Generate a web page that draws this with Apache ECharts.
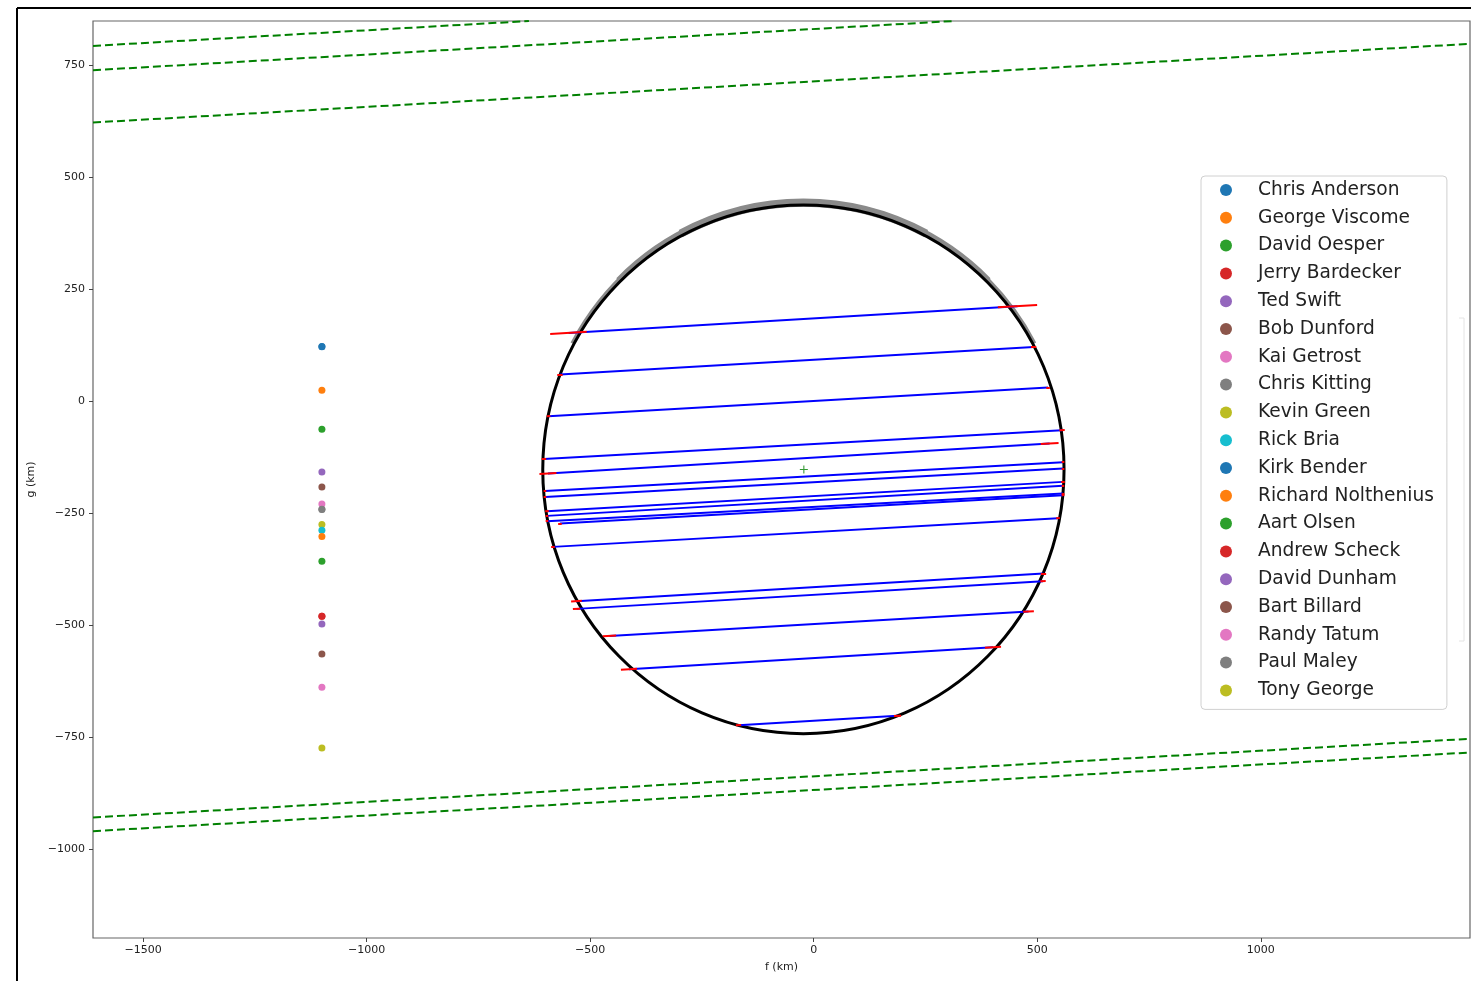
<!DOCTYPE html>
<html>
<head>
<meta charset="utf-8">
<title>Occultation chords</title>
<script src="https://cdn.jsdelivr.net/npm/echarts@6/dist/echarts.min.js"></script>
<style>
html,body{margin:0;padding:0;background:#fff;}
#main{width:1471px;height:981px;}
</style>
</head>
<body>
<div id="main"></div>
<script>
// observers (legend order) and their marker position at f = -1100
var observerNames = ['Chris Anderson', 'George Viscome', 'David Oesper', 'Jerry Bardecker', 'Ted Swift',
    'Bob Dunford', 'Kai Getrost', 'Chris Kitting', 'Kevin Green', 'Rick Bria', 'Kirk Bender',
    'Richard Nolthenius', 'Aart Olsen', 'Andrew Scheck', 'David Dunham', 'Bart Billard',
    'Randy Tatum', 'Paul Maley', 'Tony George'];
var observerColors = ['#1f77b4', '#ff7f0e', '#2ca02c', '#d62728', '#9467bd', '#8c564b', '#e377c2',
    '#7f7f7f', '#bcbd22', '#17becf', '#1f77b4', '#ff7f0e', '#2ca02c', '#d62728', '#9467bd',
    '#8c564b', '#e377c2', '#7f7f7f', '#bcbd22'];
var dotF = -1100;
var dotG = [121.4, 23.9, -63.2, -481, -159, -192, -230, -242.4, -276, -289, 121,
    -302.7, -357.8, -480.6, -497.8, -565, -639, -242, -774.6];

// positive chords (blue): start / end of each chord
var chordF1 = [-548.5, -567.6, -593.1, -603.4, -594.4, -601.1, -601.1, -596.6, -596.6, -596.6, -567.6, -583.2, -530.6, -530.6, -456.8, -413.2, -168.2];
var chordG1 = [151.8, 58.7, -34.2, -129.5, -162, -200.9, -214.3, -246.2, -256.7, -268.5, -273.7, -325.9, -447.1, -464.3, -524.6, -598.9, -723.9];
var chordF2 = [455.9, 491.9, 524.2, 555.5, 527.7, 557.7, 557.7, 557.7, 557.7, 557.7, 557.7, 546.5, 513.9, 513.0, 480.5, 401.1, 187.5];
var chordG2 = [211.4, 120.3, 29.9, -65.4, -95.1, -136.8, -150.9, -180.8, -189.7, -206.7, -210.5, -261.8, -385.3, -402.5, -470.1, -549.8, -703.1];
// timing uncertainty at each end (km), red bars
var errLeft = [41, 6, 4, 5, 19, 3, 3, 4, 3, 3, 4, 4, 12, 8, 15, 18, 6];
var errRight = [44, 6, 4, 6, 20, 3, 3, 4, 3, 3, 3, 4, 6, 6, 12, 18, 8];

// negative chords (green dashed)
var missF1 = [-1612, -1612, -1612, -1612, -1612];
var missG1 = [792.4, 738.2, 621.4, -929.9, -960.5];
var missF2 = [-637, 314, 1468, 1468, 1468];
var missG2 = [848, 848, 797, -754.3, -784.9];

// fitted limb
var limbCenter = [-23, -153];
var limbRadius = [583, 590];

var xTicks = [-1500, -1000, -500, 0, 500, 1000];
var yTicks = [-1000, -750, -500, -250, 0, 250, 500, 750];

var FONT = 'DejaVu Sans';
var myChart = echarts.init(document.getElementById('main'));

function minusFmt(v) {
    return String(v).replace('-', '\u2212');
}

var chordData = [];
var errData = [];
for (var i = 0; i < chordF1.length; i++) {
    chordData.push({coords: [[chordF1[i], chordG1[i]], [chordF2[i], chordG2[i]]]});
    var df = chordF2[i] - chordF1[i], dg = chordG2[i] - chordG1[i];
    var len = Math.sqrt(df * df + dg * dg);
    var uf = df / len, ug = dg / len;
    errData.push({coords: [[chordF1[i] - errLeft[i] * uf, chordG1[i] - errLeft[i] * ug],
        [chordF1[i] + errLeft[i] * uf, chordG1[i] + errLeft[i] * ug]]});
    errData.push({coords: [[chordF2[i] - errRight[i] * uf, chordG2[i] - errRight[i] * ug],
        [chordF2[i] + errRight[i] * uf, chordG2[i] + errRight[i] * ug]]});
}
var missData = [];
for (var j = 0; j < missF1.length; j++) {
    missData.push({coords: [[missF1[j], missG1[j]], [missF2[j], missG2[j]]]});
}

// gray uncertainty band on the upper limb: [start angle, end angle, width]
var bandArcs = [[-152, -28, 4], [-135, -45, 6], [-118, -62, 8]];

var series = [];
series.push({
    type: 'custom', name: 'band', z: 1, silent: true,
    encode: {x: 0, y: 1},
    data: [[limbCenter[0], limbCenter[1], limbRadius[0], limbRadius[1]]],
    renderItem: function (params, api) {
        var c = api.coord([api.value(0), api.value(1)]);
        var s = api.size([api.value(2), api.value(3)]);
        var kids = bandArcs.map(function (b) {
            return {
                type: 'arc',
                shape: {cx: 0, cy: -1.5, r: s[0] + 1, startAngle: b[0] * Math.PI / 180, endAngle: b[1] * Math.PI / 180, clockwise: true},
                style: {stroke: '#8a8a8a', lineWidth: b[2], fill: null}
            };
        });
        return {type: 'group', x: c[0], y: c[1], scaleY: s[1] / s[0], children: kids};
    }
});
series.push({
    type: 'custom', name: 'limb', z: 2, silent: true,
    encode: {x: 0, y: 1},
    data: [[limbCenter[0], limbCenter[1], limbRadius[0], limbRadius[1]]],
    renderItem: function (params, api) {
        var c = api.coord([api.value(0), api.value(1)]);
        var s = api.size([api.value(2), api.value(3)]);
        return {
            type: 'ellipse',
            shape: {cx: c[0], cy: c[1], rx: s[0], ry: s[1]},
            style: {stroke: '#000', lineWidth: 3, fill: null}
        };
    }
});
series.push({
    type: 'lines', name: 'chords', coordinateSystem: 'cartesian2d', z: 3, silent: true,
    data: chordData,
    lineStyle: {color: '#0000ff', width: 2, opacity: 1}
});
series.push({
    type: 'lines', name: 'errors', coordinateSystem: 'cartesian2d', z: 4, silent: true,
    data: errData,
    lineStyle: {color: '#ff0000', width: 2, opacity: 1}
});
series.push({
    type: 'lines', name: 'misses', coordinateSystem: 'cartesian2d', z: 3, silent: true,
    data: missData,
    lineStyle: {color: '#008000', width: 2, opacity: 1, type: [8, 4]}
});
series.push({
    type: 'scatter', name: 'center', z: 5, silent: true,
    data: [[limbCenter[0] + 1, limbCenter[1]]],
    symbol: 'path://M0,4h9v1.2h-9z M3.9,0h1.2v9h-1.2z',
    symbolSize: 8,
    itemStyle: {color: '#008000'}
});
for (var k = 0; k < observerNames.length; k++) {
    series.push({
        type: 'scatter', name: observerNames[k], z: 5,
        data: [[dotF, dotG[k]]],
        symbol: 'circle', symbolSize: 7,
        itemStyle: {color: observerColors[k], opacity: 1}
    });
}

var option = {
    animation: false,
    backgroundColor: '#fff',
    grid: {
        left: 93, top: 21, right: 1, bottom: 43,
        show: true, borderColor: '#666', borderWidth: 1.2,
        outerBoundsMode: 'none'
    },
    xAxis: {
        type: 'value', min: -1612, max: 1468,
        name: 'f (km)', nameLocation: 'middle', nameGap: 24,
        nameTextStyle: {fontFamily: FONT, fontSize: 11, color: '#222'},
        axisLine: {show: false, onZero: false},
        splitLine: {show: false},
        axisTick: {show: true, length: 4, lineStyle: {color: '#444'}, customValues: xTicks},
        axisLabel: {customValues: xTicks, margin: 7, fontFamily: FONT, fontSize: 11, color: '#222', formatter: minusFmt}
    },
    yAxis: {
        type: 'value', min: -1199, max: 848,
        name: 'g (km)', nameLocation: 'middle', nameGap: 50, nameRotate: 90,
        nameTextStyle: {fontFamily: FONT, fontSize: 11, color: '#222'},
        axisLine: {show: false, onZero: false},
        splitLine: {show: false},
        axisTick: {show: true, length: 4, lineStyle: {color: '#444'}, customValues: yTicks},
        axisLabel: {customValues: yTicks, margin: 8, fontFamily: FONT, fontSize: 11, color: '#222', formatter: minusFmt}
    },
    legend: {
        data: observerNames, orient: 'vertical', left: 1201, top: 176,
        icon: 'circle', itemWidth: 12, itemHeight: 12, itemGap: 7.8,
        padding: [4, 13, 9, 19],
        borderColor: '#d0d0d0', borderWidth: 1, borderRadius: 4,
        backgroundColor: 'rgba(255,255,255,0.85)',
        selectedMode: false,
        textStyle: {fontFamily: FONT, fontSize: 18.6, color: '#222', lineHeight: 20, padding: [0, 0, 0, 21]}
    },
    graphic: [
        {type: 'line', silent: true, shape: {x1: 17, y1: 8, x2: 17, y2: 981}, style: {stroke: '#000', lineWidth: 2}},
        {type: 'line', silent: true, shape: {x1: 17, y1: 8, x2: 1471, y2: 8}, style: {stroke: '#000', lineWidth: 2}},
        {type: 'polyline', silent: true, shape: {points: [[1459, 318], [1464, 318], [1464, 641], [1459, 641]]}, style: {stroke: '#e4e4e4', lineWidth: 1, fill: null}}
    ],
    series: series
};
myChart.setOption(option);
</script>
</body>
</html>
